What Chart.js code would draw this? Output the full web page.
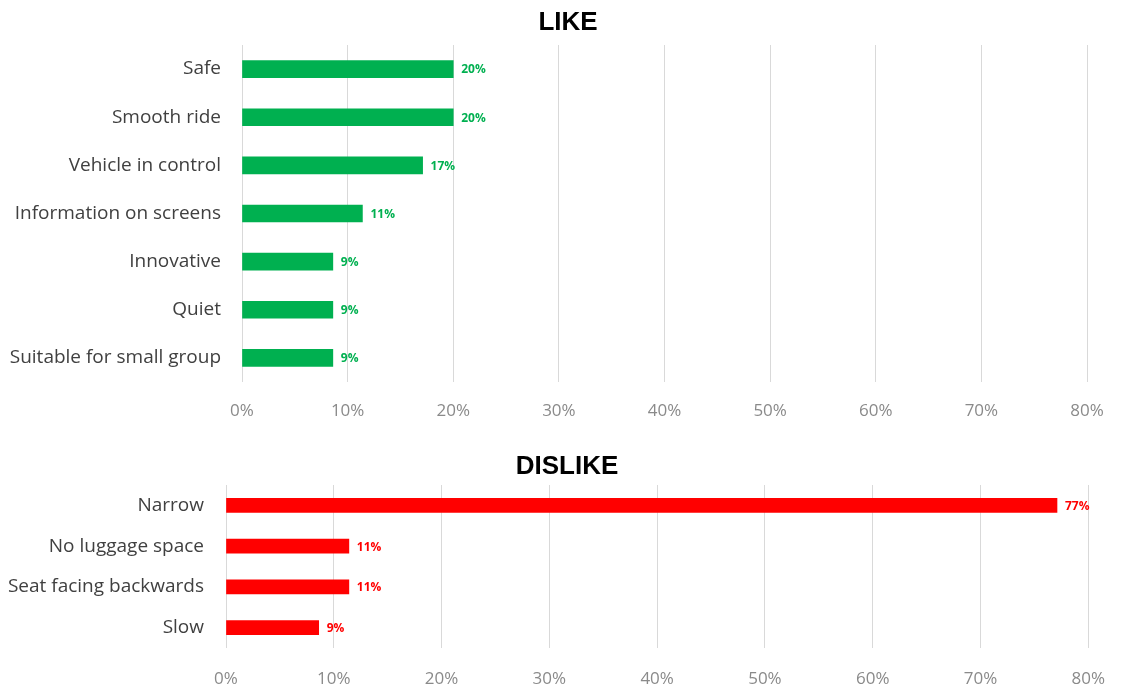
<!DOCTYPE html>
<html>
<head>
<meta charset="utf-8">
<script src="https://cdn.jsdelivr.net/npm/chart.js@4.4.1/dist/chart.umd.min.js"></script>
<style>
  html, body { margin: 0; padding: 0; background: #ffffff; }
  #wrap { position: relative; width: 1126px; height: 689px; overflow: hidden; }
  .panel { position: absolute; left: 0; width: 1126px; }
  #likePanel { top: 0; height: 440px; }
  #dislikePanel { top: 440px; height: 249px; }
</style>
</head>
<body>
<div id="wrap">
  <div class="panel" id="likePanel"><canvas id="likeChart"></canvas></div>
  <div class="panel" id="dislikePanel"><canvas id="dislikeChart"></canvas></div>
</div>
<script>
// Survey answers: share of respondents (%) mentioning each aspect
const likeCategories = ['Safe', 'Smooth ride', 'Vehicle in control', 'Information on screens', 'Innovative', 'Quiet', 'Suitable for small group'];
const likeValues = [20.0, 20.0, 17.1, 11.4, 8.6, 8.6, 8.6];

const dislikeCategories = ['Narrow', 'No luggage space', 'Seat facing backwards', 'Slow'];
const dislikeValues = [77.1, 11.4, 11.4, 8.6];

// Percentage axis: 0% .. 80% in steps of 10
const axisMin = 0;
const axisMax = 80;
const axisStep = 10;

const pct = v => Math.round(v) + '%';

// Writes the rounded percentage just past the end of every bar
const barValueLabels = {
  id: 'barValueLabels',
  afterDatasetsDraw(chart) {
    const ctx = chart.ctx;
    chart.data.datasets.forEach((ds, di) => {
      const meta = chart.getDatasetMeta(di);
      meta.data.forEach((bar, i) => {
        ctx.save();
        ctx.font = 'bold 12px "Open Sans", Lato, sans-serif';
        ctx.fillStyle = ds.labelColor;
        ctx.textAlign = 'left';
        ctx.textBaseline = 'middle';
        ctx.fillText(pct(ds.data[i]), bar.x + 8, bar.y + 1);
        ctx.restore();
      });
    });
  }
};

// Panel heading, centred over the page rather than over the plot
const panelHeading = {
  id: 'panelHeading',
  afterDraw(chart, args, o) {
    const ctx = chart.ctx;
    ctx.save();
    ctx.font = 'bold 26px "Liberation Sans", Arial, sans-serif';
    ctx.fillStyle = '#000000';
    ctx.textAlign = 'center';
    ctx.textBaseline = 'middle';
    ctx.fillText(o.text, o.x, o.y);
    ctx.restore();
  }
};

function buildChart(canvasId, opts) {
  return new Chart(document.getElementById(canvasId), {
    type: 'bar',
    data: {
      labels: opts.categories,
      datasets: [{
        data: opts.values,
        backgroundColor: opts.color,
        labelColor: opts.color,
        barThickness: opts.barThickness,
        borderWidth: 0
      }]
    },
    options: {
      indexAxis: 'y',
      responsive: true,
      maintainAspectRatio: false,
      animation: false,
      events: [],
      layout: { padding: { left: 0, right: opts.rightPad, top: opts.topPad, bottom: 0 } },
      plugins: {
        legend: { display: false },
        tooltip: { enabled: false },
        title: { display: false },
        panelHeading: { text: opts.title, x: opts.titleX, y: opts.titleY }
      },
      scales: {
        x: {
          type: 'linear',
          min: axisMin,
          max: axisMax,
          border: { display: false },
          grid: { color: '#d9d9d9', lineWidth: 1, drawTicks: false },
          ticks: {
            stepSize: axisStep,
            padding: opts.xTickPad,
            color: '#8a8a8a',
            font: { family: '"Open Sans", Lato, sans-serif', size: 17 },
            callback: v => v + '%'
          },
          afterFit(scale) { scale.height = opts.xAxisHeight; }
        },
        y: {
          border: { display: false },
          grid: { display: false, drawTicks: false },
          ticks: {
            padding: opts.yTickPad,
            color: '#404040',
            font: { family: '"Open Sans", Lato, sans-serif', size: 19 }
          },
          afterFit(scale) { scale.width = opts.yAxisWidth; }
        }
      }
    },
    plugins: [barValueLabels, panelHeading]
  });
}

buildChart('likeChart', {
  title: 'LIKE',
  titleX: 568,
  titleY: 23,
  categories: likeCategories,
  values: likeValues,
  color: '#00B050',
  barThickness: 17,
  topPad: 45,
  rightPad: 39,
  xTickPad: 19,
  xAxisHeight: 58,
  yTickPad: 21,
  yAxisWidth: 242
});

buildChart('dislikeChart', {
  title: 'DISLIKE',
  titleX: 567,
  titleY: 27,
  categories: dislikeCategories,
  values: dislikeValues,
  color: '#FF0000',
  barThickness: 14,
  topPad: 45,
  rightPad: 27,
  xTickPad: 21,
  xAxisHeight: 41,
  yTickPad: 22,
  yAxisWidth: 226
});
</script>
</body>
</html>
